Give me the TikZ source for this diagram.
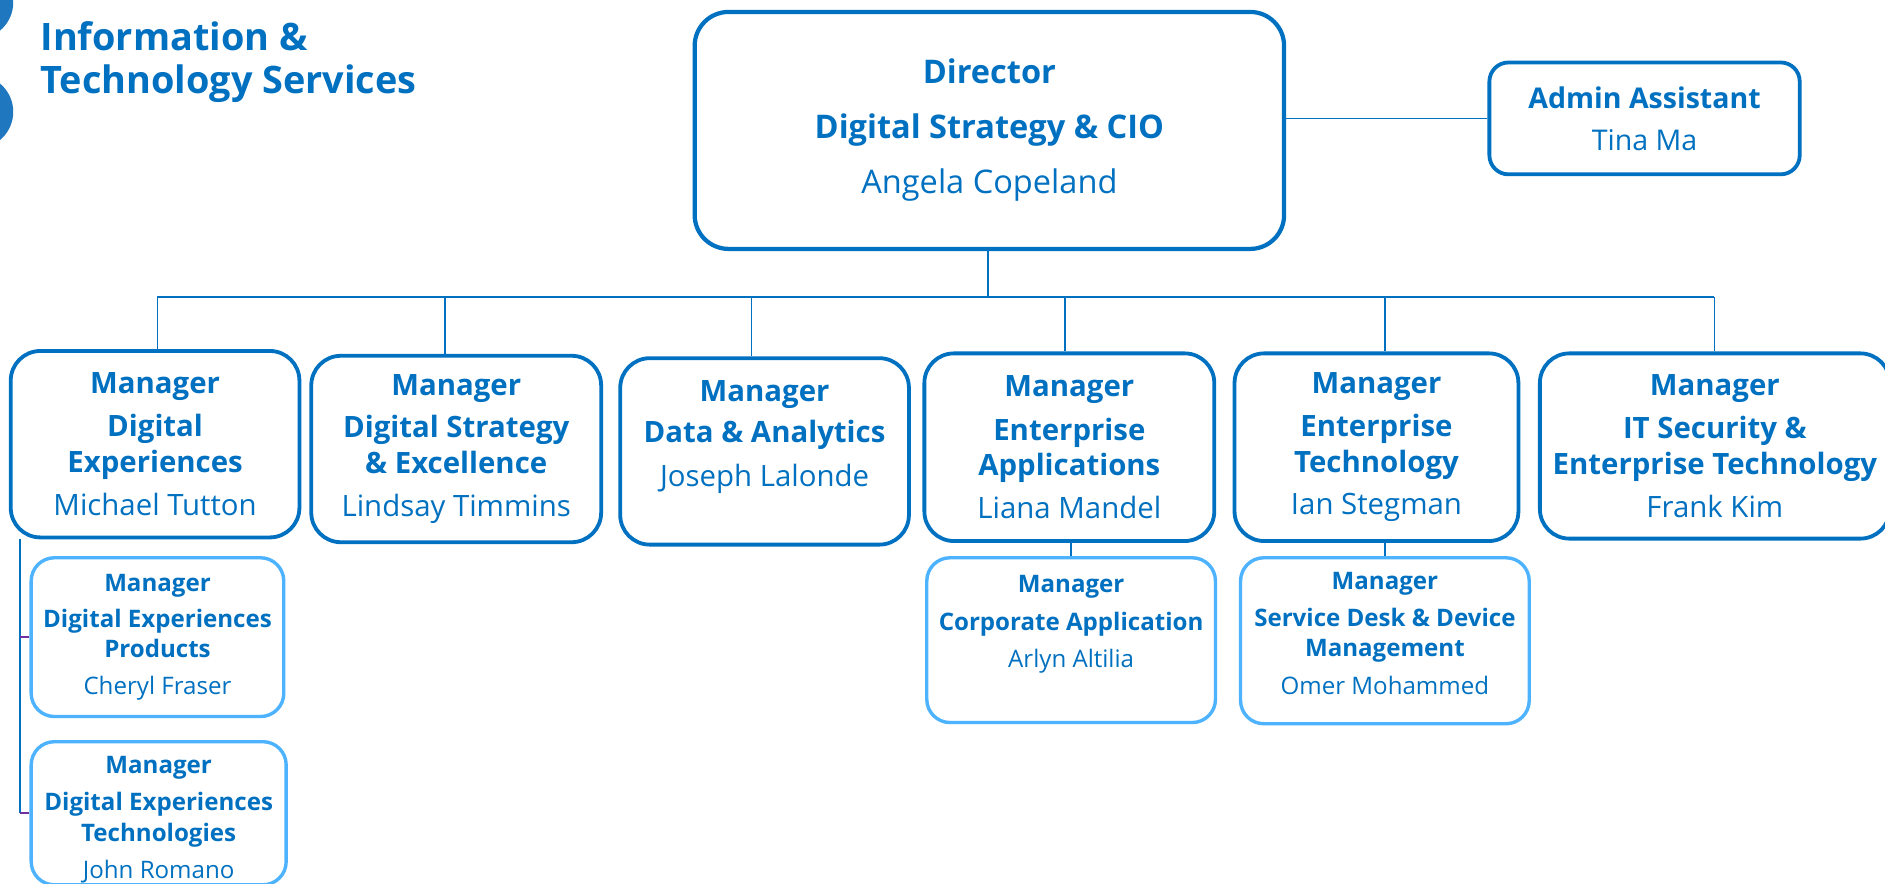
\documentclass[tikz,border=0pt]{standalone}
\usepackage{fontspec}
\setmainfont{Open Sans}
\definecolor{itsblue}{RGB}{0,112,192}
\definecolor{itslight}{RGB}{77,179,255}
\definecolor{itsdot}{RGB}{31,119,191}
\definecolor{itspurple}{RGB}{112,48,160}
\newcommand\fsz[2]{\fontsize{#1}{#2}\selectfont}

\begin{document}
\begin{tikzpicture}[x=0.01cm,y=-0.01cm,
  box/.style={draw=itsblue, text=itsblue, align=center, inner sep=0pt},
  topbox/.style={box, line width=1pt, rounded corners=8pt, font=\fsz{7.7}{9.7}},
  mgrbox/.style={box, line width=0.9pt, rounded corners=7pt, font=\fsz{6.95}{8.5}},
  subbox/.style={box, draw=itslight, line width=0.8pt, rounded corners=5.5pt, font=\fsz{5.7}{7.1}},
  link/.style={itsblue, line width=0.35pt},
  tick/.style={itspurple, line width=0.5pt}]

\fill[white] (0,0) rectangle (1568,735.3);
\useasboundingbox (0,0) rectangle (1568,735.3);

% corner dots and heading
\fill[itsdot] (-19.5,2) circle [radius=0.305cm];
\fill[itsdot] (-19.5,93) circle [radius=0.305cm];
\node[anchor=north west, inner sep=0pt, align=left, text=itsblue, font=\fsz{8.95}{10.24}\bfseries] (head) at (33,17)
  {Information \&\\Technology Services};

\node[topbox, minimum width=4.90cm, minimum height=1.97cm] (dir) at (823,108.5)
  {\textbf{Director}\\[3.3pt]\textbf{Digital Strategy \& CIO}\\[3.3pt]Angela Copeland};
\node[mgrbox, font=\fsz{6.75}{8.5}, rounded corners=4.5pt, minimum width=2.58cm, minimum height=0.93cm] (adm) at (1368,98.5)
  {\textbf{Admin Assistant}\\[1.4pt]Tina Ma};

% managers
\node[mgrbox, minimum width=2.40cm, minimum height=1.55cm] (m1) at (129,369.5)
  {\textbf{Manager}\\[1.7pt]\textbf{Digital}\\\textbf{Experiences}\\[1.5pt]Michael Tutton};
\node[mgrbox, minimum width=2.41cm, minimum height=1.55cm] (m2) at (379.5,373.5)
  {\textbf{Manager}\\[1.5pt]\textbf{Digital Strategy}\\\textbf{\& Excellence}\\[1.7pt]Lindsay Timmins};
\node[mgrbox, minimum width=2.40cm, minimum height=1.55cm] (m3) at (636,375.5)
  {\textbf{Manager}\\[1.2pt]\textbf{Data \& Analytics}\\[1.9pt]Joseph Lalonde\\\mbox{}};
\node[mgrbox, minimum width=2.41cm, minimum height=1.56cm] (m4) at (889.5,372)
  {\textbf{Manager}\\[1.7pt]\textbf{Enterprise}\\\textbf{Applications}\\[1.5pt]Liana Mandel};
\node[mgrbox, minimum width=2.36cm, minimum height=1.56cm] (m5) at (1145,372)
  {\textbf{Manager}\\[1.7pt]\textbf{Enterprise}\\\textbf{Technology}\\[1.5pt]Ian Stegman};
\node[mgrbox, minimum width=2.91cm, minimum height=1.54cm] (m6) at (1426.5,371)
  {\textbf{Manager}\\[1.7pt]\textbf{IT Security \&}\\\textbf{Enterprise Technology}\\[1.5pt]Frank Kim};

% second level
\node[subbox, minimum width=2.10cm, minimum height=1.32cm] (sa) at (131,530)
  {\textbf{Manager}\\[1.5pt]\textbf{Digital Experiences}\\\textbf{Products}\\[1.7pt]Cheryl Fraser};
\node[subbox, minimum width=2.12cm, minimum height=1.19cm] (sb) at (132,676.5)
  {\mbox{}\\\textbf{Manager}\\[1.7pt]\textbf{Digital Experiences}\\\textbf{Technologies}\\[1.7pt]John Romano};
\node[subbox, minimum width=2.40cm, minimum height=1.37cm] (sc) at (891,532.5)
  {\textbf{Manager}\\[1.7pt]\textbf{Corporate Application}\\[1.7pt]Arlyn Altilia\\[1.7pt]\mbox{}};
\node[subbox, minimum width=2.40cm, minimum height=1.38cm] (sd) at (1152,533)
  {\textbf{Manager}\\[1.7pt]\textbf{Service Desk \& Device}\\\textbf{Management}\\[1.7pt]Omer Mohammed\\[-3.6pt]\mbox{}};

% connectors
\draw[link] (adm.west) -- (adm.west -| dir.east);
\coordinate (b0) at (822,247);
\coordinate (b1) at (131,247);
\coordinate (b2) at (370,247);
\coordinate (b3) at (625,247);
\coordinate (b4) at (886,247);
\coordinate (b5) at (1152,247);
\coordinate (b6) at (1426,247);
\draw[link] (dir.south -| b0) -- (b0);
\draw[link] (b1) -- (b6);
\foreach \b/\m in {b1/m1,b2/m2,b3/m3,b4/m4,b5/m5,b6/m6}
  \draw[link] (\b) -- (\b |- \m.north);
\draw[link] (m4.south -| sc.north) -- (sc.north);
\draw[link] (m5.south -| sd.north) -- (sd.north);

\coordinate (vt) at (17,676);
\draw[link, line width=0.45pt] (m1.south -| vt) -- (vt);
\draw[tick] (vt) -- (vt -| sb.west);
\draw[tick] (sa.west -| vt) -- (sa.west);

\end{tikzpicture}
\end{document}
